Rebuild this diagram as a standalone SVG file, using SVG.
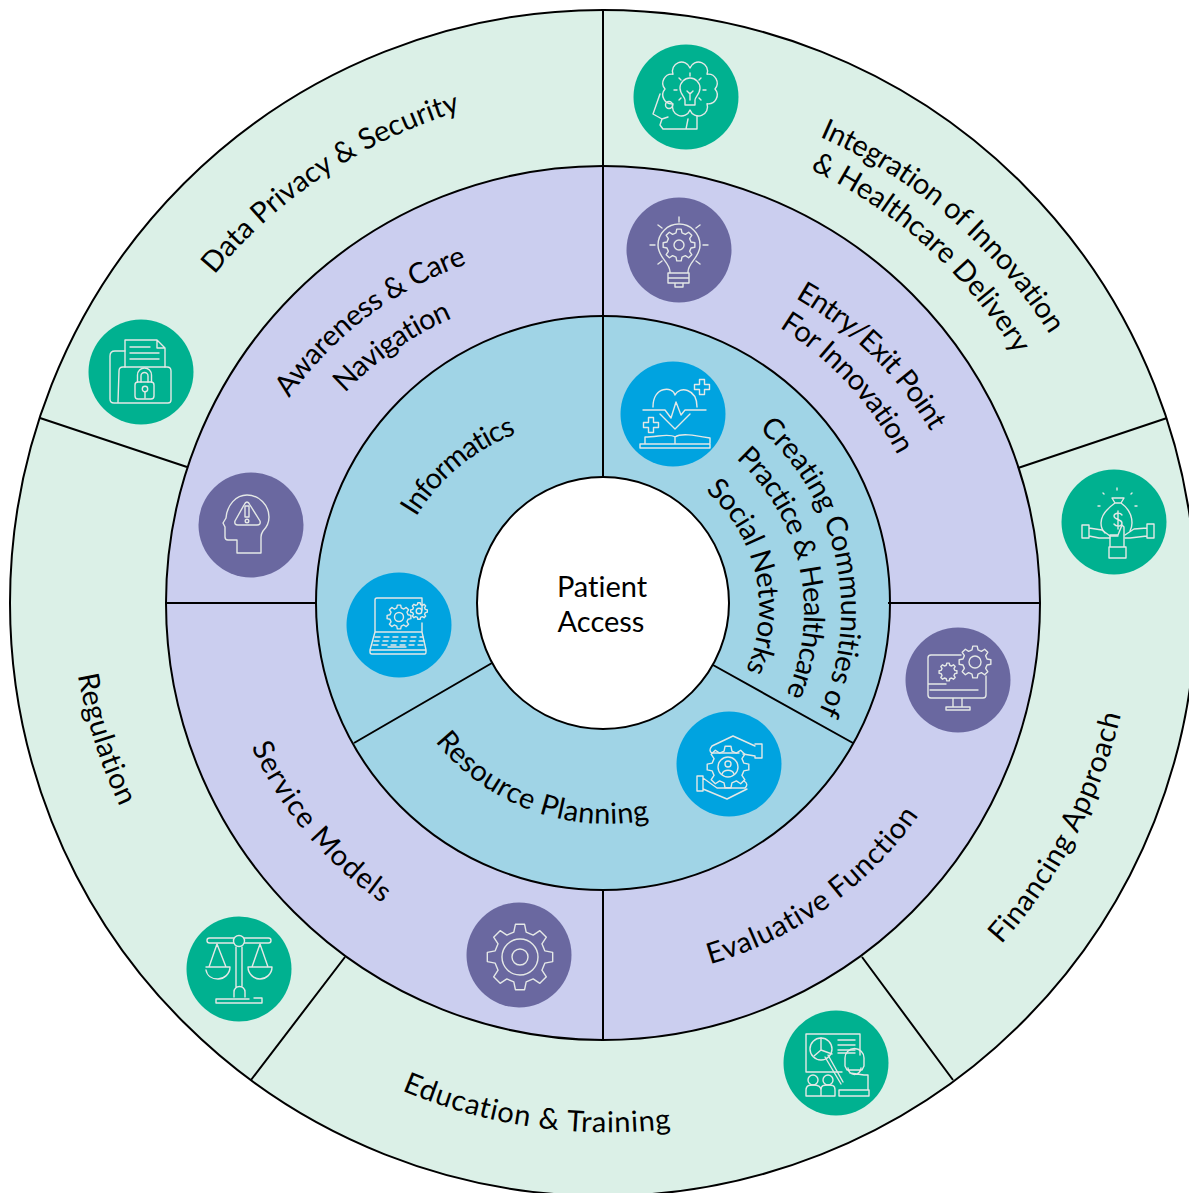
<svg xmlns="http://www.w3.org/2000/svg" width="1189" height="1193" viewBox="0 0 1189 1193">
<style>
.ring{stroke:#000;stroke-width:2}
.ln{stroke:#000;stroke-width:2;fill:none}
.t{font-family:"Lato","Liberation Sans",sans-serif;font-size:29px;fill:#000;text-anchor:middle;font-variant-ligatures:none}
.ic{fill:none;stroke:#E4E8E6;stroke-width:1.4;stroke-linejoin:round;stroke-linecap:round}
.teal{fill:#00B190}.pur{fill:#6A68A0}.blu{fill:#00A3E0}
</style>
<defs>
<polygon id="gear" vector-effect="non-scaling-stroke" points="19.81,-2.78 19.81,2.78 15.04,3.75 13.29,7.98 15.97,12.04 12.04,15.97 7.98,13.29 3.75,15.04 2.78,19.81 -2.78,19.81 -3.75,15.04 -7.98,13.29 -12.04,15.97 -15.97,12.04 -13.29,7.98 -15.04,3.75 -19.81,2.78 -19.81,-2.78 -15.04,-3.75 -13.29,-7.98 -15.97,-12.04 -12.04,-15.97 -7.98,-13.29 -3.75,-15.04 -2.78,-19.81 2.78,-19.81 3.75,-15.04 7.98,-13.29 12.04,-15.97 15.97,-12.04 13.29,-7.98 15.04,-3.75"/>
<path id="cross" d="M-2.5,-7.5H2.5V-2.5H7.5V2.5H2.5V7.5H-2.5V2.5H-7.5V-2.5H-2.5Z"/>
<path id="p1" d="M203,289 A515 515 0 0 1 478,106"/>
<path id="p2" d="M795,127 A513 513 0 0 1 1063,357"/>
<path id="p3" d="M789,160 A480 480 0 0 1 1027,375"/>
<path id="p4" d="M981,966 A527 527 0 0 0 1127,685"/>
<path id="p5" d="M74,651 A532 532 0 0 0 131,829"/>
<path id="p6" d="M385,1083 A530 530 0 0 0 690,1126"/>
<path id="p7" d="M278,415 A362 362 0 0 1 486,258"/>
<path id="p8" d="M333,406 A330 330 0 0 1 468,312"/>
<path id="p9" d="M776,288 A368 368 0 0 1 941,450"/>
<path id="p10" d="M756,314 A332 332 0 0 1 909,479"/>
<path id="p11" d="M687,970 A383 383 0 0 0 932,795"/>
<path id="p12" d="M242,724 A380 380 0 0 0 404,917"/>
<path id="p13" d="M405,538 A200 200 0 0 1 538,427"/>
<path id="p14" d="M724,404 A240 240 0 0 1 797,749"/>
<path id="p15" d="M709.5,438.4 A205 205 0 0 1 770.600,723.2"/>
<path id="p16" d="M680.6,473.2 A155 155 0 0 1 731.3,696.5"/>
<path id="p17" d="M420,720 A220 220 0 0 0 675,813"/>
</defs>
<g id="rings">
<circle class="ring" cx="603" cy="603" r="593" fill="#DBF0E7"/>
<circle class="ring" cx="603" cy="603" r="437" fill="#CBCEEF"/>
<circle class="ring" cx="603" cy="603" r="287" fill="#A0D4E6"/>
</g>
<g id="connectors">
<path class="ln" d="M603,10V478M1167,418L1018,468M888,603H1040M713,665L853,743M603,890V1040M166,603H316M354,743L492,663M40,418L187,467M345,957L251,1080M862,957L953,1080"/>
</g>
<g id="center"><circle class="ring" cx="603" cy="603" r="126" fill="#fff"/>
<text class="t" x="602" y="597">Patient</text><text class="t" x="601" y="632">Access</text></g>

<g id="data-privacy"><text class="t"><textPath href="#p1" startOffset="50%">Data Privacy &amp; Security</textPath></text>
<circle class="teal" cx="141" cy="372" r="52.5"/>
<g class="ic" transform="translate(141,372)"><path d="M-16,-21H-26Q-31,-21 -31,-16V27Q-31,31 -27,31H27Q30,31 30,28V-1Q30,-5 26,-5H-18Q-22,-5 -22,-1L-23,30"/><path d="M-16,-5V-32H16L24,-24V-5M16,-32V-24H24M-11,-25H9M-11,-19H18M-11,-13H18"/><rect x="-6" y="10" width="19" height="17" rx="3"/><path d="M-3.5,10V3A7 7 0 0 1 10.500,3V10M0,10V4A3.500 3.500 0 0 1 7,4V10"/><circle cx="4" cy="17" r="2.700"/><path d="M4,20V26"/></g></g>

<g id="integration"><text class="t" letter-spacing="-.3"><textPath href="#p2" startOffset="50%">Integration of Innovation</textPath></text><text class="t"><textPath href="#p3" startOffset="50%">&amp; Healthcare Delivery</textPath></text>
<circle class="teal" cx="686" cy="97" r="52.5"/>
<g class="ic" transform="translate(686,97)"><path d="M29,-8A9 9 0 0 1 21,6.800A9 9 0 0 1 4,13A9 9 0 0 1 -13,6.800A9 9 0 0 1 -21,-8A9 9 0 0 1 -13,-22.800A9 9 0 0 1 4,-29A9 9 0 0 1 21,-22.800A9 9 0 0 1 29,-8Z"/><path d="M-26,-3L-33,17L-24,22L-26,28L-23,32H11V19M-24,22L-18,20M2,22L0,32"/><circle cx="-17" cy="8" r="3.500"/><path d="M-1,8V3C-1,0 -6,-3 -6,-9A10 10 0 0 1 14,-9C14,-3 9,0 9,3V8ZM0,8H8M4,3V-4M1,-6L4,-3L7,-6M4,-24V-21M-7,-19L-5,-17M15,-19L13,-17M-12,-7H-9M17,-7H20M-7,3L-5,1M15,3L13,1"/></g></g>

<g id="financing"><text class="t" letter-spacing=".6"><textPath href="#p4" startOffset="50%">Financing Approach</textPath></text>
<circle class="teal" cx="1114" cy="522" r="52.5"/>
<g class="ic" transform="translate(1114,522)"><path d="M-2,-24H10L7,-19H1ZM1,-19C-6,-14 -13,-8 -13,1C-13,6 -11,9 -9,11M7,-19C14,-14 18,-8 18,1C18,5 17,7 16,9M8,-7C6,-10 0,-9 0,-6C0,-2 8,-3 8,1C8,5 2,5 0,2M4,-11V7M3,-34V-32M-11,-29L-10,-28M18,-29L17,-28M-16,-16H-14M21,-16H23"/><path d="M-32,3H-25V16H-32ZM33,2H40V16H33ZM-25,6L-12,8L-4,14H4M-25,14L-15,16H-4M33,6L20,7L11,13M33,14L16,16H11"/><path d="M-5,25H12V36H-5ZM-4,25V13H4L8,3L10,5L10,25"/></g></g>

<g id="regulation"><text class="t" letter-spacing=".4"><textPath href="#p5" startOffset="50%">Regulation</textPath></text>
<circle class="teal" cx="239" cy="969" r="52.5"/>
<g class="ic" transform="translate(239,969)"><rect x="-32" y="-31" width="64" height="5" rx="2.500"/><circle cx="0" cy="-28" r="5.500" fill="#00B190"/><path d="M-3,-22V18M3,-22V18M-5,28V23A5.500 5.500 0 0 1 6,23V28M-23,34H23V29H15M-23,34V30H10"/><path d="M-22,-25L-30,-2M-22,-25L-13,-2M-33,-2H-9C-9,5 -15,10 -21,10C-27,10 -32,7 -33,1M21,-25L13,-2M21,-25L29,-2M9,-2H33C33,5 27,10 21,10C15,10 9,5 9,-2Z"/></g></g>

<g id="education"><text class="t" letter-spacing=".7"><textPath href="#p6" startOffset="50%">Education &amp; Training</textPath></text>
<circle class="teal" cx="836" cy="1063" r="52.5"/>
<g class="ic" transform="translate(836,1063)"><path d="M6,9H-30V-29H24V-8"/><circle cx="-15" cy="-14" r="11"/><path d="M-15,-25V-13L-4,-9M-15,-13L-22,-7M2,-23H19M2,-18H19M2,-13H19M2,-10H19"/><path d="M-11,-6L5,21M-8,-8L7,19"/><path d="M9,-5A9 9 0 0 1 28,-5V3L26,7H11L9,3ZM12,5A6 6 0 0 0 25,5M14,10L28,12H32V27M3,33V27H33V33ZM-30,33V27C-30,22 -26,22 -23,22C-20,22 -15,22 -15,27V33M-15,27C-15,22 -12,22 -8,22C-4,22 -1,22 -1,27V33M-30,33H-1"/><circle cx="-23" cy="17" r="5"/><circle cx="-8" cy="17" r="5"/></g></g>

<g id="awareness"><text class="t" letter-spacing="-.4"><textPath href="#p7" startOffset="50%">Awareness &amp; Care</textPath></text><text class="t" letter-spacing="-.6"><textPath href="#p8" startOffset="50%">Navigation</textPath></text>
<circle class="pur" cx="251" cy="525" r="52.5"/>
<g class="ic" transform="translate(251,525)"><path d="M-14,28V15H-23Q-26,15 -26,12V2L-28,-2L-25,-7C-24,-20 -15,-30 -4,-30C8,-30 18,-20 18,-8C18,-3 16,2 12,6Q10,9 10,12V28Z"/><path d="M-4,-23C-3,-23 -2,-22 -1,-20L9,-4Q10,0 6,0H-13Q-17,0 -16,-4L-7,-20C-6,-22 -5,-23 -4,-23Z"/><path d="M-6,-19H-2V-8H-6Z"/><circle cx="-4" cy="-4" r="1.800"/></g></g>

<g id="entry-exit"><text class="t" letter-spacing="-.7"><textPath href="#p9" startOffset="50%">Entry/Exit Point</textPath></text><text class="t" letter-spacing="-.6"><textPath href="#p10" startOffset="50%">For Innovation</textPath></text>
<circle class="pur" cx="679" cy="250" r="52.5"/>
<g class="ic" transform="translate(679,250)"><path d="M-9,22C-9,12 -21,8 -21,-5A21 21 0 0 1 21,-5C21,8 9,12 9,22M-11,23H10V33H-11ZM-11,28H10M-4,33V37H4V33M0,-33V-28M-29,-5H-24M24,-5H29M-21,-25L-17,-22M21,-25L17,-22M-21,14L-17,11M21,14L17,11"/><use href="#gear" transform="translate(0,-5) scale(.8)"/><circle cx="0" cy="-5" r="5"/></g></g>

<g id="evaluative"><text class="t" letter-spacing=".7"><textPath href="#p11" startOffset="50%">Evaluative Function</textPath></text>
<circle class="pur" cx="958" cy="680" r="52.5"/>
<g class="ic" transform="translate(958,680)"><path d="M3,-25H-27Q-30,-25 -30,-22V15Q-30,18 -27,18H25Q28,18 28,15V-4M-30,4H-12M-28,10H20M-5,18V27M4,18V27M-12,27H12V30H-12Z"/><use href="#gear" transform="translate(17,-18) scale(.8)"/><circle cx="17" cy="-18" r="6"/><use href="#gear" transform="translate(-10,-8) scale(.45)"/></g></g>

<g id="service-models"><text class="t" letter-spacing="1"><textPath href="#p12" startOffset="50%">Service Models</textPath></text>
<circle class="pur" cx="519" cy="955" r="52.5"/>
<g class="ic" transform="translate(519,955)"><use href="#gear" transform="translate(1,2) scale(1.65)"/><circle cx="1" cy="2" r="18"/><circle cx="1" cy="2" r="8"/></g></g>

<g id="informatics"><text class="t" letter-spacing="-1"><textPath href="#p13" startOffset="50%">Informatics</textPath></text>
<circle class="blu" cx="399" cy="625" r="52.5"/>
<g class="ic" transform="translate(399,625)"><path d="M-24,7V-25Q-24,-27 -22,-27H23V-15M23,-2V7H-24L-29,25V27Q-29,29 -27,29H26Q27,29 27,27V25L23,7M-29,25H27M-11,22H7"/><path d="M-24,12H24M-25,16H25M-26,20H26" stroke-dasharray="5 4"/><use href="#gear" transform="translate(0,-8) scale(.6)"/><circle cx="0" cy="-8" r="4.500"/><use href="#gear" transform="translate(20,-14) scale(.42)"/><circle cx="20" cy="-14" r="2.800"/></g></g>

<g id="communities"><text class="t" letter-spacing="-.3"><textPath href="#p14" startOffset="50%">Creating Communities of</textPath></text><text class="t" letter-spacing="-.9"><textPath href="#p15" startOffset="50%">Practice &amp; Healthcare</textPath></text><text class="t" letter-spacing="-.6"><textPath href="#p16" startOffset="50%">Social Networks</textPath></text>
<circle class="blu" cx="673" cy="414" r="52.5"/>
<g class="ic" transform="translate(673,414)"><path d="M-20,-7C-20,-28 0,-28 2,-19C6,-28 24,-26 24,-7M-30,-4H-8L-2,4L3,-12L8,1L12,-4H33M-13,0L2,15L17,0"/><use href="#cross" transform="translate(29,-27)"/><use href="#cross" transform="translate(-22,11)"/><path d="M-28,29V23C-15,23 -4,19 2,23C8,19 20,21 37,24V29M2,23V29M-33,30H37V34H-33Z"/></g></g>

<g id="resource-planning"><text class="t" letter-spacing=".4"><textPath href="#p17" startOffset="50%">Resource Planning</textPath></text>
<circle class="blu" cx="729" cy="764" r="52.5"/>
<g class="ic" transform="translate(729,764)"><use href="#gear" transform="translate(-1,3) scale(1.05)"/><circle cx="-1" cy="3" r="10" fill="#00A3E0"/><circle cx="-1" cy="0" r="3"/><path d="M-7,10C-5,5 3,5 5,10"/><path d="M26,-18L4,-28L-17,-18Q-21,-13 -17,-11H10M26,-20H33V-6H26V-8L14,-10M-32,12H-26V27H-32ZM-26,14L-12,24H16Q20,20 15,17M-26,25L-2,35L18,25"/></g></g>
</svg>
